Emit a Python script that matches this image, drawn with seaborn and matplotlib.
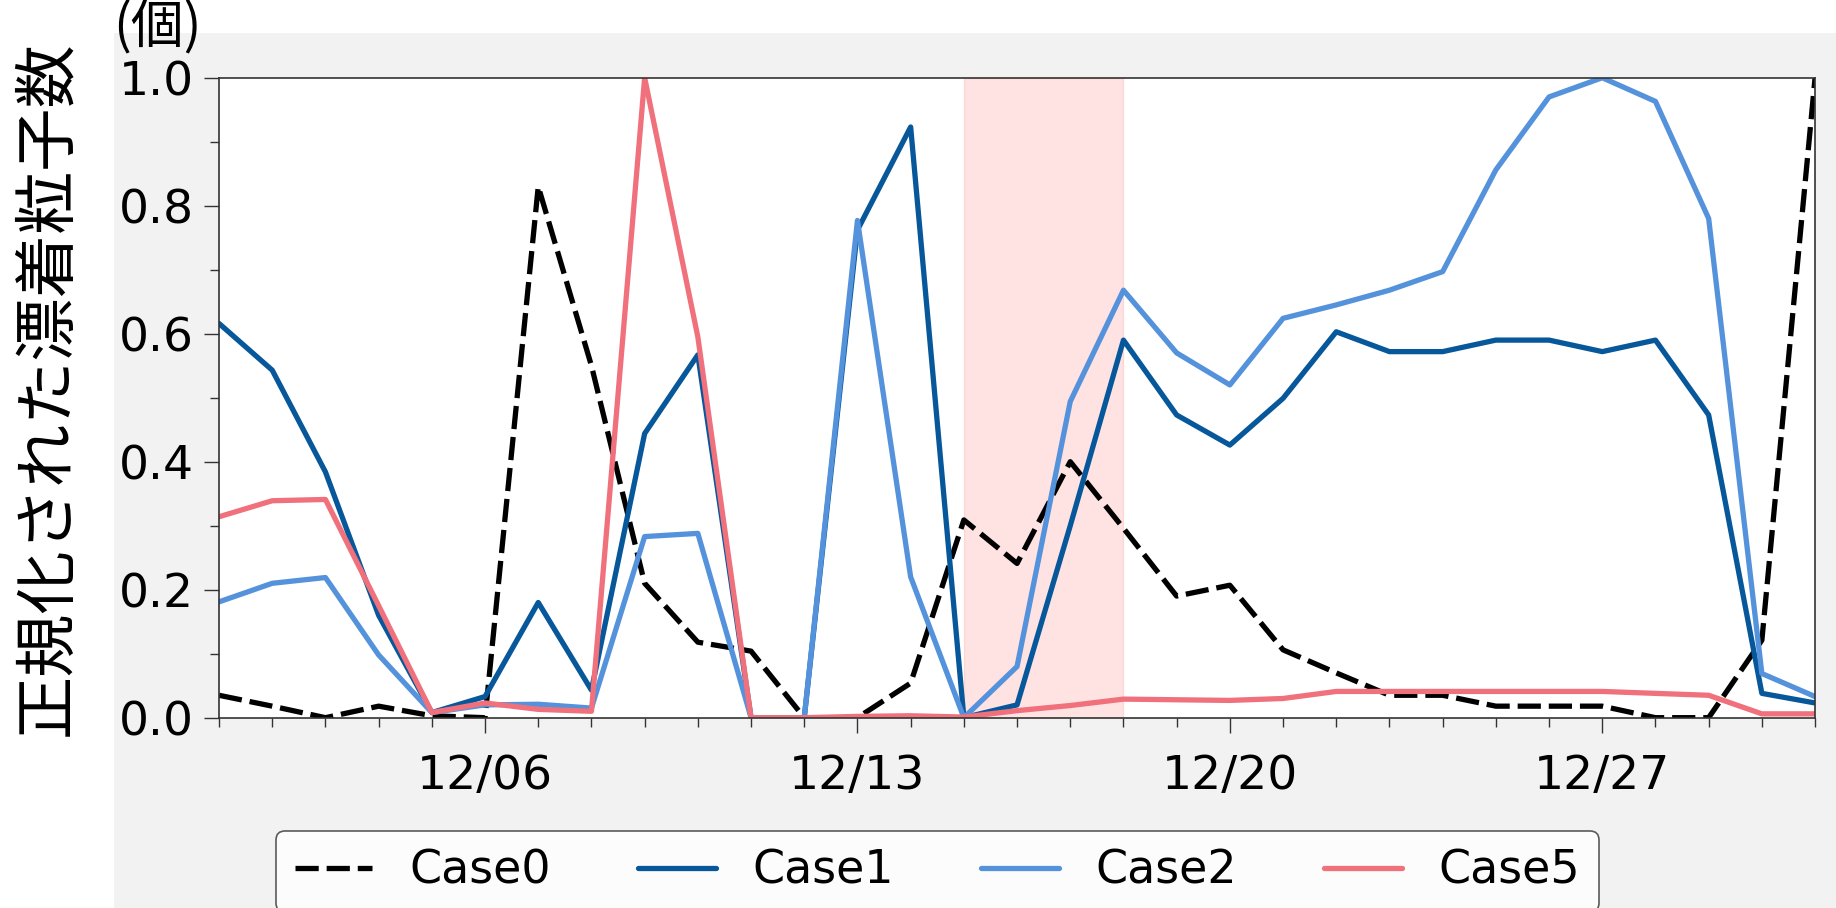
import pandas as pd
import numpy as np
import matplotlib
matplotlib.use('Agg')
import matplotlib.pyplot as plt
import matplotlib.dates as mdates
from matplotlib.ticker import MultipleLocator, FormatStrFormatter
from matplotlib.patches import Rectangle
import seaborn as sns

dates = pd.date_range('2023-12-01', '2023-12-31', freq='D')

case0 = [0.035, 0.018, 0.0, 0.018, 0.003, 0.0, 0.83, 0.55, 0.21, 0.118, 0.104,
         0.0, 0.0, 0.054, 0.309, 0.241, 0.40, 0.296, 0.19, 0.207, 0.106,
         0.07, 0.035, 0.035, 0.018, 0.018, 0.018, 0.0, 0.0, 0.121, 1.0]
case1 = [0.616, 0.543, 0.384, 0.16, 0.008, 0.033, 0.18, 0.043, 0.444, 0.567, 0.0,
         0.0, 0.762, 0.923, 0.0, 0.02, 0.30, 0.59, 0.473, 0.426, 0.499,
         0.603, 0.572, 0.572, 0.59, 0.59, 0.572, 0.59, 0.473, 0.038, 0.023]
case2 = [0.181, 0.21, 0.219, 0.098, 0.008, 0.02, 0.021, 0.015, 0.283, 0.288, 0.0,
         0.0, 0.777, 0.22, 0.0, 0.08, 0.494, 0.668, 0.57, 0.52, 0.624,
         0.645, 0.668, 0.697, 0.856, 0.97, 1.0, 0.963, 0.78, 0.069, 0.033]
case5 = [0.314, 0.339, 0.341, 0.175, 0.008, 0.023, 0.013, 0.01, 1.0, 0.595, 0.0,
         0.0, 0.002, 0.003, 0.001, 0.011, 0.019, 0.029, 0.028, 0.027, 0.03,
         0.041, 0.041, 0.041, 0.041, 0.041, 0.041, 0.038, 0.035, 0.006, 0.006]

names = ['Case0', 'Case1', 'Case2', 'Case5']
series = [case0, case1, case2, case5]
colors = ['black', '#07579b', '#5592dc', '#f0707c']

span_start = pd.Timestamp('2023-12-15')
span_end = pd.Timestamp('2023-12-18')

sns.set_style('ticks')
plt.rcParams['font.family'] = ['DejaVu Sans', 'Noto Sans CJK JP']
plt.rcParams['text.color'] = 'black'
plt.rcParams['xtick.labelcolor'] = 'black'
plt.rcParams['ytick.labelcolor'] = 'black'

fig = plt.figure(figsize=(18.36, 9.08), dpi=100)
fig.patch.set_facecolor('white')
fig.add_artist(Rectangle((114 / 1836, 0), 1 - 114 / 1836, 1 - 33 / 908,
                         transform=fig.transFigure, facecolor='#f2f2f2',
                         edgecolor='none', zorder=-10))
ax = fig.add_axes([0.1193, 0.2096, 0.8693, 0.7048])
ax.set_facecolor('white')

ax.axvspan(span_start, span_end, color='red', alpha=0.11, zorder=0)

for name, vals, c in zip(names, series, colors):
    ls = (0, (4.4, 1.5)) if name == 'Case0' else '-'
    sns.lineplot(x=dates, y=vals, color=c, linestyle=ls, linewidth=3.8,
                 label=name, ax=ax, legend=False)

ax.set_xlim(dates[0], dates[-1])
ax.set_ylim(0, 1)
ax.xaxis.set_major_locator(mdates.DayLocator(bymonthday=[6, 13, 20, 27]))
ax.xaxis.set_minor_locator(mdates.DayLocator())
ax.xaxis.set_major_formatter(mdates.DateFormatter('%m/%d'))
ax.yaxis.set_major_locator(MultipleLocator(0.2))
ax.yaxis.set_minor_locator(MultipleLocator(0.1))
ax.yaxis.set_major_formatter(FormatStrFormatter('%.1f'))

ax.tick_params(which='major', length=10.8, width=1.0, color='#333333',
               labelsize=34, labelcolor='black', direction='out')
ax.tick_params(which='minor', length=6.8, width=1.0, color='#333333',
               direction='out')
ax.tick_params(axis='x', which='major', pad=15)
ax.tick_params(axis='y', which='major', pad=7.5)
for s in ax.spines.values():
    s.set_color('#333333')
    s.set_linewidth(1.2)

ax.set_xlabel('')
ax.set_ylabel('正規化された漂着粒子数', fontsize=45.5, va='center', color='black')
ax.yaxis.set_label_coords(-0.107, 0.515)
ax.text(-0.0388, 1.079, '(個)', transform=ax.transAxes, fontsize=38,
        ha='center', va='center', family=['Noto Sans CJK JP'], color='black')

handles, labels = ax.get_legend_handles_labels()
leg = fig.legend(handles, labels, loc='center', ncol=4,
                 bbox_to_anchor=(0.5106, 0.0402), fontsize=33,
                 handlelength=1.7, handletextpad=0.8, columnspacing=1.9,
                 frameon=True, fancybox=True, framealpha=0.8)
leg.get_frame().set_edgecolor('#333333')
leg.get_frame().set_linewidth(1.2)
for t in leg.get_texts():
    t.set_color('black')

fig.savefig('out.png', dpi=100, facecolor='white')
